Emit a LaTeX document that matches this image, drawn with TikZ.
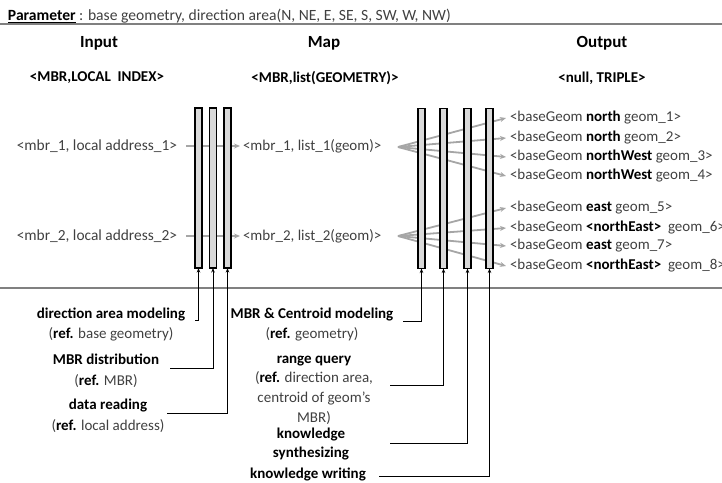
\documentclass[tikz,border=0pt]{standalone}
\usepackage{fontspec}
\setmainfont{Carlito}
\usetikzlibrary{arrows.meta}
\definecolor{txtgray}{HTML}{404040}
\definecolor{arrgray}{HTML}{A6A6A6}
\definecolor{barfill}{HTML}{D9D9D9}
\definecolor{rulegray}{HTML}{808080}
\newcommand{\bk}[1]{\textbf{\color{black}#1}}
\begin{document}
\begin{tikzpicture}[x=1pt,y=-1pt,
  txt/.style={inner sep=0pt, outer sep=0pt, text=txtgray, font=\fontsize{15}{20}\selectfont},
  head/.style={inner sep=0pt, text=black, font=\fontsize{17}{20}\selectfont\bfseries},
  sub/.style={inner sep=0pt, text=black, font=\fontsize{15}{20}\selectfont\bfseries},
  lbl/.style={txt, align=center, font=\fontsize{15}{20.5}\selectfont},
  bar/.style={draw=black, line width=1.6pt, fill=barfill, minimum width=7pt, minimum height=160pt, inner sep=0pt, outer sep=0pt},
  garrow/.style={draw=arrgray, line width=1.8pt, -{Stealth[length=6pt,width=5pt]}},
  conn/.style={draw=black, line width=1pt, -{Stealth[length=4.5pt,width=3.5pt]}},
  rulel/.style={draw=rulegray, line width=1.5pt}]
\useasboundingbox (0,0) rectangle (722,482);

% parameter line
\node[txt, anchor=west, font=\fontsize{15.6}{20}\selectfont] (param) at (8,16) {\bk{\underline{Parameter}} : base geometry, direction area(N, NE, E, SE, S, SW, W, NW)};
\draw[rulel] (0,24) -- (722,24);

% headers
\node[head] (hin) at (99,43) {Input};
\node[head] (hmap) at (324,43) {Map};
\node[head] (hout) at (602,43) {Output};
\node[sub] (sin) at (97,78) {<MBR,LOCAL\ \ INDEX>};
\node[sub] (smap) at (325,78) {<MBR,list(GEOMETRY)>};
\node[sub] (sout) at (602,78) {<null, TRIPLE>};

% rows: input and map
\node[txt, anchor=east, font=\fontsize{15.4}{20}\selectfont] (in1) at (177,146) {<mbr\_1, local address\_1>};
\node[txt, anchor=east, font=\fontsize{15.4}{20}\selectfont] (in2) at (177,236) {<mbr\_2, local address\_2>};
\node[txt, anchor=west] (mp1) at (243,146) {<mbr\_1, list\_1(geom)>};
\node[txt, anchor=west] (mp2) at (243,236) {<mbr\_2, list\_2(geom)>};

% output rows
\node[txt, anchor=west] (o1) at (510,118) {<baseGeom \bk{north} geom\_1>};
\node[txt, anchor=west] (o2) at (510,138) {<baseGeom \bk{north} geom\_2>};
\node[txt, anchor=west] (o3) at (510,157) {<baseGeom \bk{northWest} geom\_3>};
\node[txt, anchor=west] (o4) at (510,176) {<baseGeom \bk{northWest} geom\_4>};
\node[txt, anchor=west] (o5) at (510,208) {<baseGeom \bk{east} geom\_5>};
\node[txt, anchor=west] (o6) at (510,228) {<baseGeom \bk{<northEast>}\ \ geom\_6>};
\node[txt, anchor=west] (o7) at (510,246) {<baseGeom \bk{east} geom\_7>};
\node[txt, anchor=west] (o8) at (510,266) {<baseGeom \bk{<northEast>}\ \ geom\_8>};

% gray flow arrows
\draw[garrow] ([xshift=9pt]in1.east) -- ([xshift=-3pt]mp1.west);
\draw[garrow] ([xshift=9pt]in2.east) -- ([xshift=-3pt]mp2.west);
\coordinate (f1) at (398,147);
\coordinate (f2) at (398,236);
\foreach \o in {o1,o2,o3,o4} \draw[garrow] (f1) -- ([xshift=-4pt]\o.west);
\foreach \o in {o5,o6,o7,o8} \draw[garrow] (f2) -- ([xshift=-4pt]\o.west);

% bars
\node[bar] (m1) at (198.5,188) {};
\node[bar] (m2) at (213,188) {};
\node[bar] (m3) at (227.5,188) {};
\node[bar] (r1) at (421.5,188.5) {};
\node[bar] (r2) at (443.5,188.5) {};
\node[bar] (r3) at (467.5,188.5) {};
\node[bar] (r4) at (489.5,188.5) {};

% divider
\draw[rulel] (0,288) -- (722,288);

% bottom labels
\node[lbl] (l1) at (111,324.5) {\bk{direction area modeling}\\(\bk{ref.} base geometry)};
\node[lbl] (l2) at (106,371) {\bk{MBR distribution}\\(\bk{ref.} MBR)};
\node[lbl] (l3) at (108,416) {\bk{data reading}\\(\bk{ref.} local address)};
\node[lbl] (l4) at (312,324.5) {\bk{MBR \& Centroid modeling}\\(\bk{ref.} geometry)};
\node[lbl, font=\fontsize{15}{19.7}\selectfont] (l5) at (314,390) {\bk{range query}\\(\bk{ref.} direction area,\\centroid of geom’s\\MBR)};
\node[lbl, font=\fontsize{15}{19.5}\selectfont] (l6) at (311,444) {\bk{knowledge}\\\bk{synthesizing}};
\node[lbl] (l7) at (308,474) {\bk{knowledge writing}};

% connectors
\coordinate (c1) at (195,320);
\coordinate (c2) at (170,368);
\coordinate (c3) at (167,413);
\coordinate (c4) at (403,321);
\coordinate (c5) at (390,385);
\coordinate (c6) at (390,443);
\coordinate (c7) at (379,476);
\draw[conn] (c1) -| (m1.south);
\draw[conn] (c2) -| (m2.south);
\draw[conn] (c3) -| (m3.south);
\draw[conn] (c4) -| (r1.south);
\draw[conn] (c5) -| (r2.south);
\draw[conn] (c6) -| (r3.south);
\draw[conn] (c7) -| (r4.south);
\end{tikzpicture}
\end{document}
